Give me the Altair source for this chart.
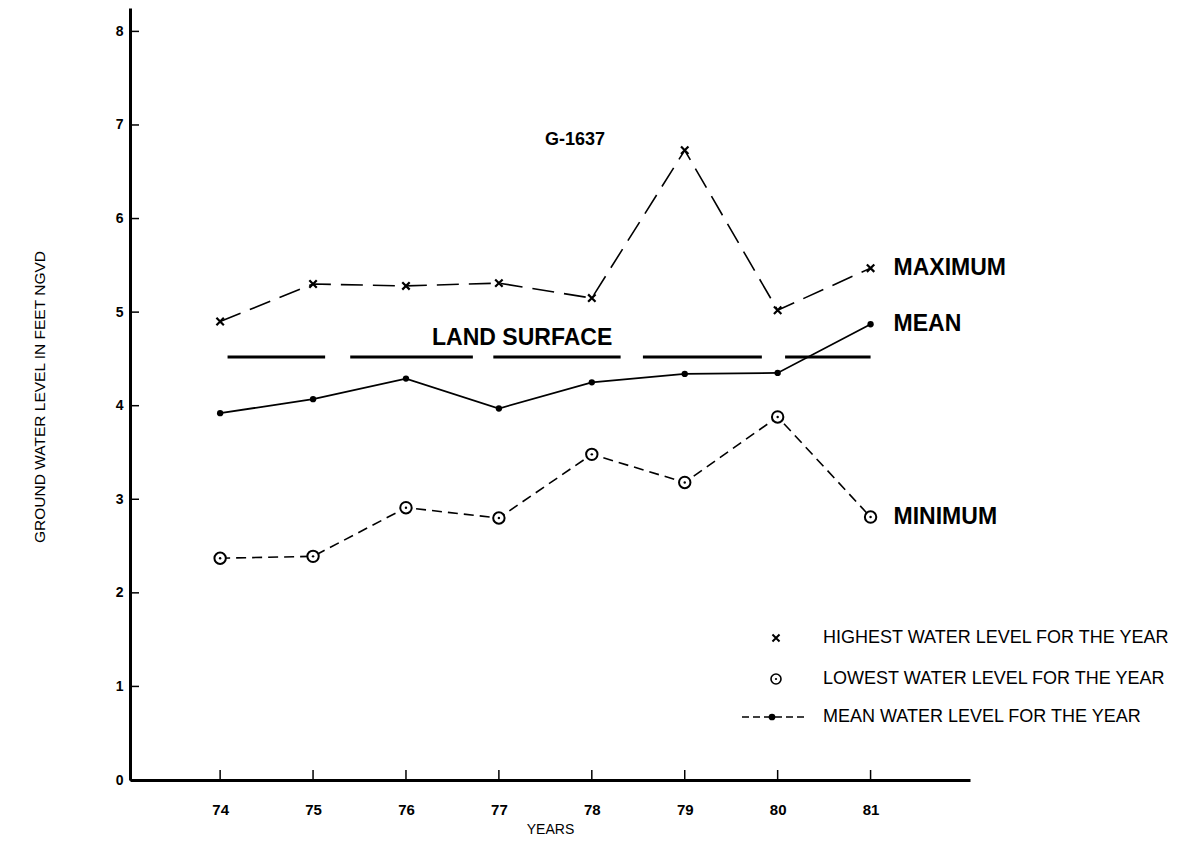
import altair as alt
import pandas as pd

# ---- data ----
years = [74, 75, 76, 77, 78, 79, 80, 81]
highest = [4.90, 5.30, 5.28, 5.31, 5.15, 6.73, 5.02, 5.47]
mean = [3.92, 4.07, 4.29, 3.97, 4.25, 4.34, 4.35, 4.87]
lowest = [2.37, 2.39, 2.91, 2.80, 3.48, 3.18, 3.88, 2.81]

land_surface = 4.52
land_from = [74.08, 75.40, 76.94, 78.55, 80.08]
land_to = [75.13, 76.72, 78.31, 79.83, 81.00]

y_ticks = [0, 1, 2, 3, 4, 5, 6, 7, 8]
x_ticks = years

well_name = "G-1637"
series_labels = ["MAXIMUM", "MEAN", "MINIMUM"]
legend_labels = [
    "HIGHEST WATER LEVEL FOR THE YEAR",
    "LOWEST WATER LEVEL FOR THE YEAR",
    "MEAN WATER LEVEL FOR THE YEAR",
]
x_title = "YEARS"
y_title = "GROUND WATER LEVEL IN FEET NGVD"

FONT = "Liberation Sans"

# ---- tables ----
df_hi = pd.DataFrame({"year": years, "value": highest})
df_mean = pd.DataFrame({"year": years, "value": mean})
df_lo = pd.DataFrame({"year": years, "value": lowest})
df_land = pd.DataFrame({"year": land_from, "year2": land_to, "value": [land_surface] * len(land_from)})
df_yt = pd.DataFrame({"value": y_ticks})
df_xt = pd.DataFrame({"year": x_ticks})
df_end = pd.DataFrame({
    "year": [years[-1]] * 3,
    "value": [highest[-1], mean[-1], lowest[-1]],
    "label": series_labels,
})

xscale = alt.Scale(domain=[73.03, 82.07], nice=False, zero=False)
yscale = alt.Scale(domain=[0, 8.25], nice=False, zero=False)

X = alt.X("year:Q", scale=xscale, axis=alt.Axis(
    values=x_ticks, format="d", title=x_title, grid=False,
    tickSize=0, domainWidth=3, domainColor="black",
    labelFont=FONT, labelFontWeight="bold", labelFontSize=15, labelColor="black",
    labelPadding=22, titleFont=FONT, titleFontSize=14, titleFontWeight="normal",
    titleColor="black", titlePadding=5))
Y = alt.Y("value:Q", scale=yscale, axis=alt.Axis(
    values=y_ticks, format="d", title=None, grid=False,
    tickSize=0, domainWidth=3, domainColor="black",
    labelFont=FONT, labelFontWeight="bold", labelFontSize=14, labelColor="black",
    labelPadding=7))

# lines
hi_line = alt.Chart(df_hi).mark_line(color="black", strokeWidth=1.6, strokeDash=[22, 10]).encode(x=X, y=Y)
hi_pts = alt.Chart(df_hi).mark_point(shape="M-1,-1L1,1M-1,1L1,-1", size=55, strokeWidth=2.2,
                                      color="black", filled=False, opacity=1).encode(x=X, y=Y)
mean_line = alt.Chart(df_mean).mark_line(color="black", strokeWidth=1.8).encode(x=X, y=Y)
mean_pts = alt.Chart(df_mean).mark_point(shape="circle", size=40, filled=True, color="black",
                                          opacity=1).encode(x=X, y=Y)
lo_line = alt.Chart(df_lo).mark_line(color="black", strokeWidth=1.6, strokeDash=[10, 6]).encode(x=X, y=Y)
lo_pts = alt.Chart(df_lo).mark_point(shape="circle", size=130, filled=True, fill="white",
                                      stroke="black", strokeWidth=2, opacity=1).encode(x=X, y=Y)
lo_dot = alt.Chart(df_lo).mark_point(shape="circle", size=6, filled=True, color="black",
                                      opacity=1).encode(x=X, y=Y)

land = alt.Chart(df_land).mark_rule(color="black", strokeWidth=3).encode(
    x=X, x2="year2:Q", y=Y)
land_txt = alt.Chart(pd.DataFrame({"year": [77.25], "value": [land_surface], "t": ["LAND SURFACE"]})).mark_text(
    font=FONT, fontWeight="bold", fontSize=23, color="black", dy=-19, align="center", baseline="middle"
).encode(x=X, y=Y, text="t:N")

title_txt = alt.Chart(pd.DataFrame({"year": [77.82], "value": [6.84], "t": [well_name]})).mark_text(
    font=FONT, fontWeight="bold", fontSize=18, color="black", align="center", baseline="middle"
).encode(x=X, y=Y, text="t:N")

end_txt = alt.Chart(df_end).mark_text(
    font=FONT, fontWeight="bold", fontSize=23, color="black", align="left", baseline="middle", dx=23
).encode(x=X, y=Y, text="label:N")

# inward ticks
y_tick_rules = alt.Chart(df_yt).mark_rule(color="black", strokeWidth=1.5).encode(
    y=Y, x=alt.value(0), x2=alt.value(9))
x_tick_rules = alt.Chart(df_xt).mark_rule(color="black", strokeWidth=1.5).encode(
    x=X, y=alt.value(772), y2=alt.value(762))

# y-axis title as rotated text
ytitle = alt.Chart(pd.DataFrame({"t": [y_title]})).mark_text(
    font=FONT, fontSize=15.5, color="black", angle=270, align="center", baseline="middle"
).encode(x=alt.value(-90), y=alt.value(389), text="t:N")

# legend (drawn)
leg_y = [630, 671, 709]
leg_sym_x = 646
leg_text_x = 693
df_leg = pd.DataFrame({"t": legend_labels, "py": leg_y})
leg_txt = alt.Chart(df_leg).mark_text(
    font=FONT, fontSize=18, color="black", align="left", baseline="middle"
).encode(x=alt.value(leg_text_x), y=alt.Y("py:Q", scale=None), text="t:N")
leg_x = alt.Chart(pd.DataFrame({"py": [leg_y[0]]})).mark_point(
    shape="M-1,-1L1,1M-1,1L1,-1", size=50, strokeWidth=2, color="black", opacity=1
).encode(x=alt.value(leg_sym_x), y=alt.Y("py:Q", scale=None))
leg_o = alt.Chart(pd.DataFrame({"py": [leg_y[1]]})).mark_point(
    shape="circle", size=100, strokeWidth=1.6, color="black", opacity=1
).encode(x=alt.value(leg_sym_x), y=alt.Y("py:Q", scale=None))
leg_o_dot = alt.Chart(pd.DataFrame({"py": [leg_y[1]]})).mark_point(
    shape="circle", size=5, filled=True, color="black", opacity=1
).encode(x=alt.value(leg_sym_x), y=alt.Y("py:Q", scale=None))
leg_line = alt.Chart(pd.DataFrame({"py": [leg_y[2]]})).mark_rule(
    color="black", strokeWidth=1.5, strokeDash=[7, 4]
).encode(x=alt.value(612), x2=alt.value(676), y=alt.Y("py:Q", scale=None))
leg_dot = alt.Chart(pd.DataFrame({"py": [leg_y[2]]})).mark_point(
    shape="circle", size=45, filled=True, color="black", opacity=1
).encode(x=alt.value(642), y=alt.Y("py:Q", scale=None))

chart = alt.layer(
    y_tick_rules, x_tick_rules,
    land, land_txt, title_txt,
    hi_line, mean_line, lo_line,
    hi_pts, mean_pts, lo_pts, lo_dot,
    end_txt, ytitle,
    leg_txt, leg_x, leg_o, leg_o_dot, leg_line, leg_dot,
).properties(
    width=840, height=772,
    autosize=alt.AutoSizeParams(type="none"),
    padding={"left": 122, "top": 0, "right": 210, "bottom": 62},
    background="white",
).configure_view(stroke=None)

chart.save("out.html", embed_options={"renderer": "svg", "actions": False})
